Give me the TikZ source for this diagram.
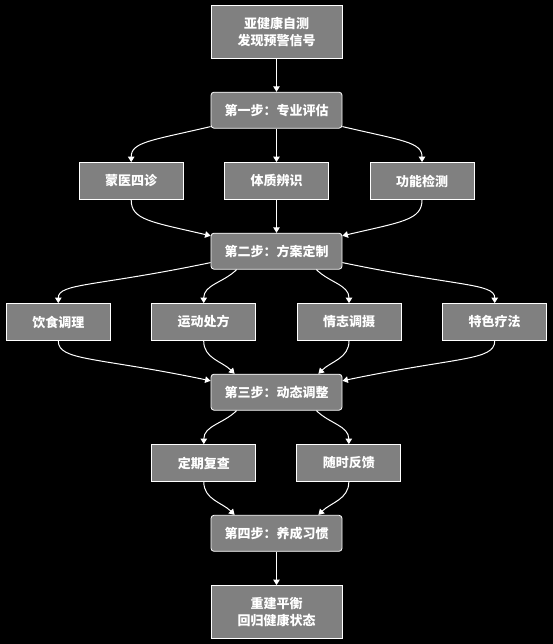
\documentclass[tikz,border=0pt]{standalone}
\usepackage{fontspec}
\newfontfamily\cjk{Noto Sans CJK SC}
\usetikzlibrary{arrows.meta}
\definecolor{boxgray}{RGB}{128,128,128}

\tikzset{
  box/.style={draw=white, fill=boxgray, text=white, line width=0.8pt,
    minimum width=104pt, minimum height=37pt, inner sep=0pt,
    font={\cjk\bfseries\fontsize{13}{17}\selectfont}},
  stepbox/.style={box, rounded corners=3pt, minimum width=131pt, minimum height=36pt},
  endbox/.style={box, minimum width=131pt, minimum height=53pt, align=center},
  arr/.style={draw=white, line width=1pt, -{Triangle[width=6.5pt,length=5.5pt]}}
}

\begin{document}
\begin{tikzpicture}[x=1pt, y=1pt]
\fill[black] (0,0) rectangle (553,-644);
\useasboundingbox (0,0) rectangle (553,-644);

% start and step 1
\node[endbox] (top) at (276.5,-31.6) {亚健康自测\\发现预警信号};
\node[stepbox] (s1) at (276.5,-110.2) {第一步：专业评估};
\node[box] (mengyi) at (131.2,-181) {蒙医四诊};
\node[box] (tizhi) at (276.5,-181) {体质辨识};
\node[box] (gongneng) at (422,-181) {功能检测};

% step 2
\node[stepbox] (s2) at (276.5,-251.2) {第二步：方案定制};
\node[box] (yinshi) at (58.3,-322) {饮食调理};
\node[box] (yundong) at (203.7,-322) {运动处方};
\node[box] (qingzhi) at (349,-322) {情志调摄};
\node[box] (tese) at (494.7,-322) {特色疗法};

% step 3
\node[stepbox] (s3) at (276.5,-392.2) {第三步：动态调整};
\node[box] (fucha) at (203.8,-463) {定期复查};
\node[box] (fankui) at (348.8,-463) {随时反馈};

% step 4 and goal
\node[stepbox] (s4) at (276.5,-533.3) {第四步：养成习惯};
\node[endbox] (goal) at (276.5,-612) {重建平衡\\回归健康状态};

\draw[arr] (top) -- (s1);
\draw[arr] ([yshift=2pt]s1.south west) .. controls +(-60,-14) and +(0,20) .. (mengyi.north);
\draw[arr] (s1) -- (tizhi);
\draw[arr] ([yshift=2pt]s1.south east) .. controls +(60,-14) and +(0,20) .. (gongneng.north);
\draw[arr] (mengyi.south) .. controls +(0,-20) and +(-60,14) .. ([yshift=-3pt]s2.north west);
\draw[arr] (tizhi) -- (s2);
\draw[arr] (gongneng.south) .. controls +(0,-20) and +(60,14) .. ([yshift=-3pt]s2.north east);

\draw[arr] ([yshift=7pt]s2.south west) .. controls +(-115,-24) and +(0,20) .. (yinshi.north);
\draw[arr] ([xshift=26pt]s2.south west) to[out=225,in=90] (yundong.north);
\draw[arr] ([xshift=-26pt]s2.south east) to[out=-45,in=90] (qingzhi.north);
\draw[arr] ([yshift=7pt]s2.south east) .. controls +(115,-24) and +(0,20) .. (tese.north);
\draw[arr] (yinshi.south) .. controls +(0,-20) and +(-115,24) .. ([yshift=-7pt]s3.north west);
\draw[arr] (yundong.south) to[out=-90,in=135] ([xshift=24pt]s3.north west);
\draw[arr] (qingzhi.south) to[out=-90,in=45] ([xshift=-24pt]s3.north east);
\draw[arr] (tese.south) .. controls +(0,-20) and +(115,24) .. ([yshift=-7pt]s3.north east);

\draw[arr] ([xshift=26pt]s3.south west) to[out=225,in=90] (fucha.north);
\draw[arr] ([xshift=-26pt]s3.south east) to[out=-45,in=90] (fankui.north);
\draw[arr] (fucha.south) to[out=-90,in=135] ([xshift=24pt]s4.north west);
\draw[arr] (fankui.south) to[out=-90,in=45] ([xshift=-24pt]s4.north east);
\draw[arr] (s4) -- (goal);
\end{tikzpicture}
\end{document}
